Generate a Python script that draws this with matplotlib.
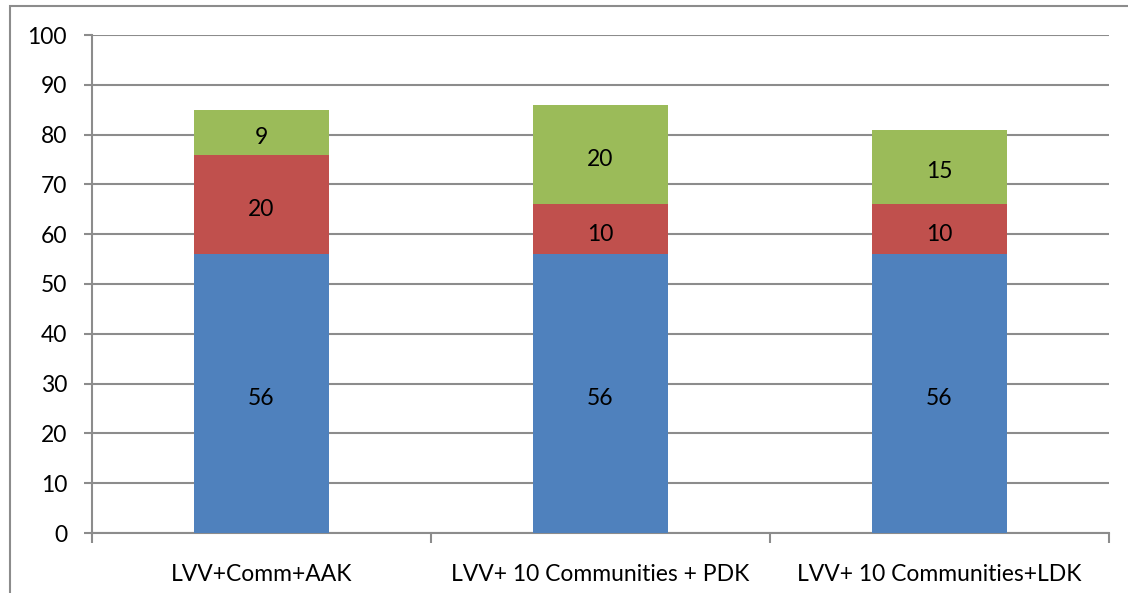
import matplotlib.pyplot as plt
from matplotlib.patches import Rectangle
from matplotlib.transforms import offset_copy

categories = ['LVV+Comm+AAK', 'LVV+ 10 Communities + PDK', 'LVV+ 10 Communities+LDK']
blue_vals = [56, 56, 56]
red_vals = [20, 10, 10]
green_vals = [9, 20, 15]
yticks = list(range(0, 101, 10))

BLUE = '#4F81BD'
RED = '#C0504D'
GREEN = '#9BBB59'
GRID = '#8C8C8C'
FS = 16.5

plt.rcParams['font.family'] = ['Lato', 'DejaVu Sans']

fig = plt.figure(figsize=(11.28, 5.93), dpi=100)
# outer chart border (runs off the right/bottom edge like the original)
fig.patches.append(Rectangle((10 / 1128, -0.05), 1.2, 1 - 6 / 593 + 0.05,
                             transform=fig.transFigure, fill=False,
                             edgecolor='#8C8C8C', linewidth=1.5))

ax = fig.add_axes([92 / 1128, 1 - 533 / 593, (1109 - 92) / 1128, (533 - 35) / 593])

x = list(range(len(categories)))
bottoms_red = blue_vals
bottoms_green = [b + r for b, r in zip(blue_vals, red_vals)]

# labels sit a few px lower than the exact segment middle in the original
lbl_tr = offset_copy(ax.transData, fig=fig, x=0, y=-5, units='dots')

for vals, bots, col in [(blue_vals, [0, 0, 0], BLUE),
                        (red_vals, bottoms_red, RED),
                        (green_vals, bottoms_green, GREEN)]:
    ax.bar(x, vals, bottom=bots, width=0.4, color=col, zorder=3)
    for xi, v, b in zip(x, vals, bots):
        ax.text(xi, b + v / 2, str(v), ha='center', va='center',
                fontsize=FS, color='black', zorder=4, transform=lbl_tr)

ax.set_xlim(-0.5, 2.5)
ax.set_ylim(0, 100)
ax.set_yticks(yticks)
ax.tick_params(axis='y', length=6, width=1.5, color=GRID, labelsize=FS, pad=12)
ax.yaxis.grid(True, color=GRID, linewidth=1.5, zorder=0)

ax.set_xticks([-0.5, 0.5, 1.5, 2.5])
ax.set_xticklabels([])
ax.set_xticks(x, minor=True)
ax.set_xticklabels(categories, minor=True, fontsize=FS)
ax.tick_params(axis='x', which='major', length=7, width=1.5, color=GRID, direction='out')
ax.tick_params(axis='x', which='minor', length=0, pad=22)

for s in ['top', 'right']:
    ax.spines[s].set_visible(False)
for s in ['left', 'bottom']:
    ax.spines[s].set_color(GRID)
    ax.spines[s].set_linewidth(1.5)

fig.savefig('out.png', dpi=100)
